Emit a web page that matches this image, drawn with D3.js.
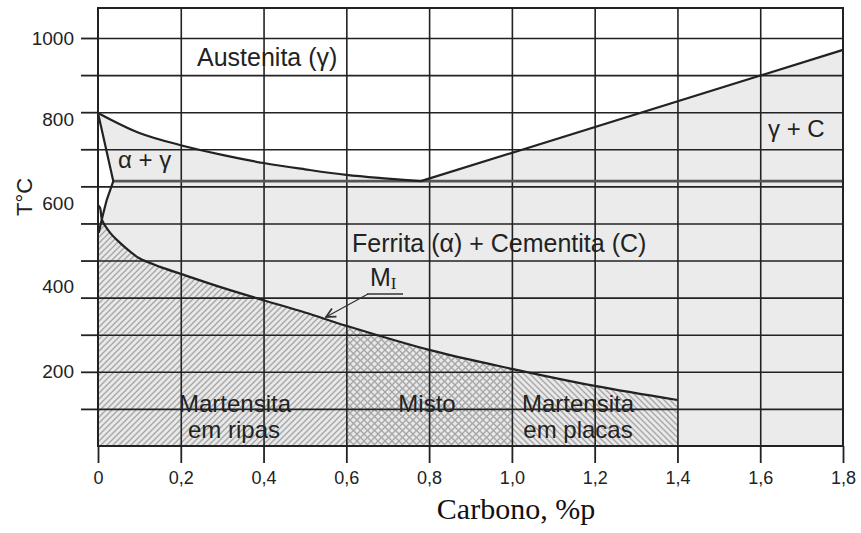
<!DOCTYPE html>
<html>
<head>
<meta charset="utf-8">
<title>Diagrama Fe-C - martensita</title>
<script src="https://d3js.org/d3.v7.min.js"></script>
<style>
    body { margin: 0; background: #fff; }
    .lbl { font-family: "Liberation Sans", Arial, sans-serif; fill: #222; }
    .axis text { font-family: "Liberation Sans", Arial, sans-serif; fill: #222; }
    .axis line, .axis path { stroke: #222; }
</style>
</head>
<body>
<svg id="chart" width="861" height="533"></svg>
<script>
// values: carbon in %p, temperature in axis units
var a3Carbon = [0, 0.1, 0.2, 0.3, 0.4, 0.5, 0.6, 0.7, 0.78];
var a3Temp   = [898, 844, 811, 785, 763, 746, 731, 721, 714];

var acmCarbon = [0.78, 1.8];
var acmTemp   = [714, 1068];

var eutCarbon = [0.037, 1.8];
var eutTemp   = [714, 714];

// alpha / alpha+gamma boundary near pure iron
var alphaCarbon = [0, 0.037, 0.021, 0.013, 0.007, 0.002, 0];
var alphaTemp   = [898, 714, 663, 628, 601, 575, 560];

// martensite start curve (M_I)
var msCarbon = [0, 0.005, 0.01, 0.03, 0.05, 0.08, 0.1, 0.15, 0.2, 0.3, 0.4, 0.5, 0.6, 0.8, 1.0, 1.2, 1.4];
var msTemp   = [650, 642, 609, 574, 551, 522, 506, 483, 464, 427, 393, 360, 324, 259, 208, 162, 124];

// martensite zones
var zoneNames = ["ripas", "misto", "placas"];
var zoneFrom  = [0, 0.6, 1.0];
var zoneTo    = [0.6, 1.0, 1.4];

var xTicks = [0, 0.2, 0.4, 0.6, 0.8, 1.0, 1.2, 1.4, 1.6, 1.8];
var yGrid = [100, 200, 300, 400, 500, 600, 700, 800, 900, 1000, 1100];
var yLabelText = ["200", "400", "600", "800", "1000"];
var yLabelAt   = [200, 430, 655, 880, 1100];

var svg = d3.select("#chart");
var pLeft = 98, pRight = 843, pTop = 8, pBottom = 446;

var x = d3.scaleLinear().domain([0, 1.8]).range([pLeft, pRight]);
var y = d3.scaleLinear().domain([0, 1100]).range([pBottom, 38]);

function pts(cs, ts) { return cs.map(function (c, i) { return [c, ts[i]]; }); }
var line = d3.line().x(function (d) { return x(d[0]); }).y(function (d) { return y(d[1]); });
var smooth = d3.line().curve(d3.curveCatmullRom.alpha(0.5)).x(function (d) { return x(d[0]); }).y(function (d) { return y(d[1]); });
function lineTo(list) {
    return list.map(function (d) { return "L" + x(d[0]) + "," + y(d[1]); }).join("");
}

// patterns
var defs = svg.append("defs");
function hatch(id, size, paths) {
    var p = defs.append("pattern").attr("id", id).attr("patternUnits", "userSpaceOnUse")
        .attr("width", size).attr("height", size);
    p.append("rect").attr("width", size).attr("height", size).attr("fill", "#e8e8e8");
    paths.forEach(function (d) {
        p.append("path").attr("d", d).attr("stroke", "#a6a6a6").attr("stroke-width", 1.3).attr("fill", "none");
    });
}
hatch("ripas", 6, ["M-1,1 L1,-1", "M0,6 L6,0", "M5,7 L7,5"]);
hatch("placas", 6, ["M-1,5 L1,7", "M0,0 L6,6", "M5,-1 L7,1"]);
hatch("misto", 7, ["M0,7 L7,0", "M-1,1 L1,-1", "M6,8 L8,6", "M0,0 L7,7", "M-1,6 L1,8", "M6,-1 L8,1"]);

// grey two-phase area below the austenite boundary
var a3 = pts(a3Carbon, a3Temp);
svg.append("path")
    .attr("d", smooth(a3) + lineTo([[acmCarbon[1], acmTemp[1]], [1.8, 0], [0, 0]]) + "Z")
    .attr("fill", "#ebebeb");

// martensite zones under the Ms curve
var ms = pts(msCarbon, msTemp);
zoneNames.forEach(function (name, i) {
    var edge = ms.filter(function (d) { return d[0] >= zoneFrom[i] && d[0] <= zoneTo[i]; });
    svg.append("path")
        .attr("d", smooth(edge) + lineTo([[zoneTo[i], 0], [zoneFrom[i], 0]]) + "Z")
        .attr("fill", "url(#" + name + ")");
});

// white ferrite strip
svg.append("path").attr("d", line(pts(alphaCarbon, alphaTemp)) + "Z").attr("fill", "#fff");

// grid
svg.append("g")
    .attr("transform", "translate(0," + pBottom + ")")
    .call(d3.axisBottom(x).tickValues(xTicks.slice(1, -1)).tickSize(-(pBottom - pTop)).tickFormat(""))
    .call(function (g) { g.select(".domain").remove(); g.selectAll("line").attr("stroke", "#222").attr("stroke-width", 1.6); });
svg.append("g")
    .attr("transform", "translate(" + pLeft + ",0)")
    .call(d3.axisLeft(y).tickValues(yGrid).tickSize(-(pRight - pLeft)).tickFormat(""))
    .call(function (g) { g.select(".domain").remove(); g.selectAll("line").attr("stroke", "#222").attr("stroke-width", 1.6); });

// curves
var curveStyle = function (sel) { return sel.attr("fill", "none").attr("stroke", "#222").attr("stroke-width", 2.2).attr("stroke-linejoin", "round"); };
svg.append("path").attr("d", line(pts(eutCarbon, eutTemp))).call(curveStyle).attr("stroke", "#555").attr("stroke-width", 2.6);
svg.append("path").attr("d", smooth(a3)).call(curveStyle);
svg.append("path").attr("d", line(pts(acmCarbon, acmTemp))).call(curveStyle);
svg.append("path").attr("d", line(pts(alphaCarbon, alphaTemp).slice(0, -1))).call(curveStyle);
svg.append("path").attr("d", smooth(ms)).call(curveStyle);

// frame
svg.append("rect").attr("x", pLeft).attr("y", pTop).attr("width", pRight - pLeft).attr("height", pBottom - pTop)
    .attr("fill", "none").attr("stroke", "#222").attr("stroke-width", 2);

// axes
svg.append("g").attr("class", "axis")
    .attr("transform", "translate(0," + pBottom + ")")
    .call(d3.axisBottom(x).tickValues(xTicks).tickSize(17).tickSizeOuter(0).tickPadding(8)
        .tickFormat(function (d) { return d === 0 ? "0" : d3.format(".1f")(d).replace(".", ","); }))
    .call(function (g) { g.select(".domain").remove(); g.selectAll("line").attr("stroke-width", 1.8); g.selectAll("text").attr("font-size", 18); });
svg.append("g").attr("class", "axis")
    .attr("transform", "translate(" + pLeft + ",0)")
    .call(d3.axisLeft(y).tickValues(yGrid).tickSize(17).tickFormat(""))
    .call(function (g) { g.select(".domain").remove(); g.selectAll("line").attr("stroke-width", 1.8); });
svg.append("g").attr("class", "axis")
    .attr("transform", "translate(" + pLeft + ",0)")
    .call(d3.axisLeft(y).tickValues(yLabelAt).tickSize(0).tickPadding(24)
        .tickFormat(function (d, i) { return yLabelText[i]; }))
    .call(function (g) { g.select(".domain").remove(); g.selectAll("text").attr("font-size", 19); });

// region labels
function label(txt, px, py, size, anchor) {
    return svg.append("text").attr("class", "lbl").attr("x", px).attr("y", py)
        .attr("font-size", size).attr("text-anchor", anchor || "start").text(txt);
}
label("Austenita (\u03b3)", 197, 66, 25);
label("\u03b1 + \u03b3", 118, 168, 24);
label("\u03b3 + C", 768, 137, 24);
label("Ferrita (\u03b1) + Cementita (C)", 352, 252, 25);
label("Martensita", 235, 412, 24, "middle");
label("em ripas", 234, 438, 24, "middle");
label("Misto", 427, 412, 24, "middle");
label("Martensita", 578, 412, 24, "middle");
label("em placas", 578, 438, 24, "middle");

var mi = label("M", 370, 286, 25);
mi.append("tspan").attr("font-family", "'Liberation Serif', 'Times New Roman', serif").attr("font-size", 17)
    .attr("dy", 3).text("I");
svg.append("line").attr("x1", 367).attr("y1", 294).attr("x2", 403).attr("y2", 294)
    .attr("stroke", "#333").attr("stroke-width", 1.5);
defs.append("marker").attr("id", "arr").attr("viewBox", "0 0 10 10").attr("refX", 9).attr("refY", 5)
    .attr("markerWidth", 9).attr("markerHeight", 9).attr("orient", "auto")
    .append("path").attr("d", "M1,1 L9,5 L1,9").attr("fill", "none").attr("stroke", "#333").attr("stroke-width", 1.5);
svg.append("line").attr("x1", 368).attr("y1", 294).attr("x2", 326).attr("y2", 317)
    .attr("stroke", "#333").attr("stroke-width", 1.3).attr("marker-end", "url(#arr)");

// axis titles
svg.append("text").attr("class", "lbl").attr("font-size", 22).attr("text-anchor", "middle")
    .attr("transform", "translate(32,197) rotate(-90)").text("T\u00b0C");
svg.append("text").attr("font-family", "'Liberation Serif', 'Times New Roman', serif").attr("fill", "#111")
    .attr("font-size", 30).attr("text-anchor", "middle").attr("x", 516).attr("y", 519).text("Carbono, %p");
</script>
</body>
</html>
